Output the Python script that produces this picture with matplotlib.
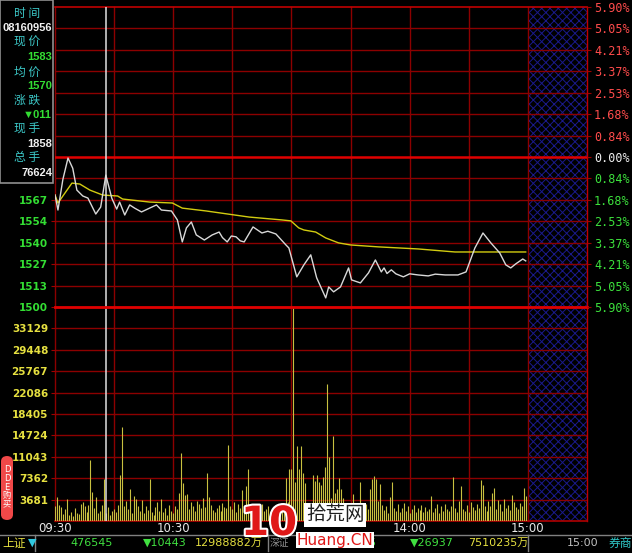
import matplotlib.pyplot as plt
from matplotlib.patches import Rectangle, FancyBboxPatch
import matplotlib.patheffects as pe

plt.rcParams['font.family'] = ['DejaVu Sans', 'Noto Sans CJK SC']
plt.rcParams['hatch.linewidth'] = 0.7

W, H = 632, 553

# ---- data ----
prev_close = 1594.05
pct_step = 5.90 / 7

# trading minute (0 = 09:30, 120 = 13:00, 240 = 15:00) and price (x100)
price_min = [0, 1.5, 4, 6.6, 9, 11.1, 14.1, 16.7, 20.7, 23.2, 25.8, 28.8, 31.3, 32.8,
             35.4, 37.9, 40.4, 43.9, 48, 51.5, 54, 59.1, 62.1, 64.6, 66.7, 69.2, 71.7,
             75.8, 79.8, 83.3, 85, 87.4, 89.5, 91.9, 94, 96, 100.5, 105, 108, 112.1,
             117.2, 118.7, 122.7, 126.3, 129.8, 132.8, 137.4, 138.9, 141.4, 144.9,
             149, 150.5, 155, 159.1, 162.6, 165.6, 167, 168.5, 170.7, 173, 176.8, 180,
             184.3, 189.4, 193, 198, 204.5, 208.6, 213.1, 217.2, 221.2, 225.7, 228.8,
             231.3, 233.8, 237.4, 238.9]
price_val = [1570.2, 1560.8, 1580, 1593.4, 1587, 1573.3, 1569.6, 1568.3, 1558.3, 1562.7,
             1582.7, 1568.3, 1561.4, 1565.8, 1557.7, 1564, 1562, 1559.6, 1562, 1564,
             1560.8, 1560.2, 1554.6, 1540.8, 1549.6, 1553.3, 1545.2, 1542, 1545.2, 1547,
             1543.5, 1540.8, 1544.5, 1544, 1541.5, 1540.8, 1550.2, 1546.4, 1547.5, 1545.8,
             1538.9, 1537, 1518.9, 1526.4, 1532.7, 1518.3, 1505.7, 1512.6, 1509.5, 1512.6,
             1524.5, 1517, 1515.1, 1521.4, 1529.5, 1522, 1524.5, 1521, 1523.3, 1520.8,
             1518.9, 1520.8, 1520.1, 1519.5, 1520.6, 1520.1, 1520.1, 1522, 1537, 1546.4,
             1540.2, 1533.9, 1526.4, 1524.5, 1527, 1530.1, 1528.9]

avg_min = [0, 1.5, 8.6, 12.6, 17.7, 24.2, 31.8, 34.3, 48, 59.6, 64.6, 76.8, 98.5, 115.1,
           119.7, 123.7, 126.3, 132.3, 137.4, 143.9, 150, 164.1, 184.3, 203, 238.9]
avg_val = [1570.2, 1565.2, 1577.7, 1577.1, 1573.3, 1570.2, 1569.6, 1567.7, 1565.8, 1565.2,
           1562, 1560.2, 1556.4, 1554.6, 1554, 1549.6, 1548.3, 1547, 1543.3, 1540.2,
           1538.9, 1537.7, 1536.4, 1534.5, 1534.5]

# volume per minute, minute 0..239
volume = [2600, 4100, 2700, 2400, 1200, 2000, 3800, 1100, 1600, 900,
          2300, 1400, 1200, 2900, 3200, 2500, 1600, 2800, 10500, 5000,
          2200, 4100, 1400, 1800, 2700, 7200, 1300, 2400, 1100, 1800,
          2000, 1500, 2700, 7900, 16200, 2600, 3500, 2100, 5500, 1400,
          4300, 3800, 2500, 1700, 3600, 1300, 2600, 1900, 7200, 1500,
          1100, 2400, 3300, 1800, 3800, 1600, 2300, 1000, 2800, 1700,
          1400, 2600, 2100, 4800, 11700, 6500, 4400, 4600, 2000, 3300,
          2600, 1800, 3500, 2900, 2200, 3900, 2400, 8200, 4100, 2700,
          1900, 1500, 2200, 2700, 1800, 3100, 2400, 2300, 13000, 2500,
          2000, 3300, 1600, 2900, 2200, 5300, 2400, 6100, 8900, 1900,
          2300, 1800, 2600, 1500, 2100, 3000, 1700, 2000, 2600, 1500,
          1200, 1900, 2400, 1400, 2200, 1700, 2800, 7400, 3200, 8900,
          9000, 36600, 6700, 12900, 8900, 12900, 8250, 6500, 3000, 1800,
          2600, 7900, 6900, 7900, 6700, 6200, 7600, 9300, 23600, 11000,
          4000, 14600, 4800, 5500, 7400, 5500, 4000, 2200, 1400, 2600,
          1800, 4600, 2400, 1200, 1900, 6700, 2300, 1600, 3000, 2100,
          5500, 7200, 7700, 7200, 3400, 6400, 2800, 1900, 2500, 1300,
          4100, 6700, 2300, 1700, 2900, 1500, 2200, 3100, 1800, 2600,
          1400, 2100, 2700, 1600, 2300, 1900, 2800, 1500, 2400, 1700,
          2000, 4300, 1600, 2200, 2900, 1400, 2500, 1800, 3000, 2100,
          1700, 2600, 7600, 2300, 1500, 3400, 6000, 2100, 1800, 2700,
          1600, 3300, 2400, 1900, 3000, 2200, 7000, 6200, 2600, 1800,
          3500, 2500, 4800, 5700, 2100, 3600, 2900, 1700, 3800, 2300,
          2800, 1900, 4500, 3200, 2400, 2000, 3100, 2600, 5700, 4300]

vol_step = 3681
cursor_min = 26

time_ticks = [0, 60, 180, 240]
time_labels = ['09:30', '10:30', '14:00', '15:00']
pct_labels = ['5.90%', '5.05%', '4.21%', '3.37%', '2.53%', '1.68%', '0.84%', '0.00%',
              '0.84%', '1.68%', '2.53%', '3.37%', '4.21%', '5.05%', '5.90%']
price_labels = ['1567', '1554', '1540', '1527', '1513', '1500']
vol_labels = ['3681', '7362', '11043', '14724', '18405', '22086', '25767', '29448', '33129']

info_names = ['时 间', '现 价', '均 价', '涨 跌', '现 手', '总 手']
info_values = ['08160956', '1583', '1570', '▼011', '1858', '76624']

# ---- figure ----
fig = plt.figure(figsize=(W / 100, H / 100), dpi=100, facecolor='black')


def fx(x):
    return x / W


def fy(y):
    return 1 - y / H


ax = fig.add_axes([fx(55), fy(307), (587 - 55) / W, 300 / H])
axv = fig.add_axes([fx(55), fy(521), (587 - 55) / W, 214 / H])

step = prev_close * pct_step / 100
levels = [prev_close + k * step for k in range(-7, 8)]

for a in (ax, axv):
    a.set_facecolor('black')
    a.set_xlim(0, 270)
    for s in a.spines.values():
        s.set_visible(False)
    a.axvspan(240, 270, facecolor='black', edgecolor='#1a1a8c', hatch='xxxx', lw=0, zorder=0.5)
    for m in range(0, 271, 30):
        a.axvline(m, color='#c00000' if m == 270 else '#8c0000', lw=1, zorder=1, clip_on=False)
    a.axvline(cursor_min, color='#e0e0e0', lw=1.1, zorder=5)

ax.set_ylim(levels[0], levels[-1])
for k, lv in enumerate(levels):
    if k == 7:
        ax.axhline(lv, color='#e00000', lw=1.8, zorder=1)
    elif k == 14:
        ax.axhline(lv, color='#c00000', lw=1.2, zorder=1, clip_on=False)
    elif k > 0:
        ax.axhline(lv, color='#8c0000', lw=1, zorder=1)

ax.plot(avg_min, avg_val, color='#d2cc10', lw=1, zorder=3)
ax.plot(price_min, price_val, color='#d8d8d8', lw=1, zorder=4)

ax.set_xticks([])
ax.set_yticks([levels[5 - i] for i in range(6)])
ax.set_yticklabels(price_labels, fontsize=7.5, fontweight='bold', color='#33dd33')
ax.tick_params(axis='y', length=3, color='#a00000', pad=2)

axr = ax.twinx()
axr.set_ylim(levels[0], levels[-1])
for s in axr.spines.values():
    s.set_visible(False)
axr.set_yticks(levels[::-1])
axr.set_yticklabels(pct_labels, family='DejaVu Sans Mono', fontsize=8.5)
for i, lbl in enumerate(axr.get_yticklabels()):
    lbl.set_color('#ff4c4c' if i < 7 else ('#f0f0f0' if i == 7 else '#3ce03c'))
axr.tick_params(axis='y', length=3, color='#a00000', pad=2)

# volume panel
axv.set_ylim(0, 10 * vol_step)
for k in range(0, 11):
    if k == 10:
        axv.axhline(k * vol_step, color='#e00000', lw=2, zorder=6, clip_on=False)
    elif k == 0:
        axv.axhline(0, color='#b00000', lw=1.2, zorder=1, clip_on=False)
    else:
        axv.axhline(k * vol_step, color='#8c0000', lw=1, zorder=1)
axv.vlines(range(len(volume)), 0, volume, color='#c8c040', lw=0.8, zorder=3)
axv.set_yticks([vol_step * (i + 1) for i in range(9)])
axv.set_yticklabels(vol_labels, fontsize=7.5, fontweight='bold', color='#e6e040')
axv.tick_params(axis='y', length=3, color='#a00000', pad=2)
axv.set_xticks(time_ticks)
axv.set_xticklabels(time_labels, fontsize=8.5, color='#e8e8e8')
axv.tick_params(axis='x', length=0, pad=1)

# ---- info panel ----
fig.add_artist(Rectangle((0, fy(183)), fx(53), 183 / H, transform=fig.transFigure,
                         facecolor='black', edgecolor='#909090', lw=1.2, zorder=10))
name_y = [13, 42, 72, 100, 129, 158]
val_y = [28, 57, 86, 115, 144, 173]
val_col = ['#f0f0f0', '#33dd33', '#33dd33', '#33dd33', '#f0f0f0', '#f0f0f0']
for nm, y in zip(info_names, name_y):
    fig.text(fx(27), fy(y), nm, family=['Noto Sans CJK SC'], fontsize=8.5,
             color='#3cc8c8', ha='center', va='center', zorder=11)
for v, y, c in zip(info_values, val_y, val_col):
    fig.text(fx(52), fy(y), v, family=['Liberation Sans', 'DejaVu Sans'], fontsize=8,
             fontweight='bold', color=c, ha='right', va='center', zorder=11)
fig.text(fx(52), fy(0), '1689', fontsize=7.5, fontweight='bold', color='#ff3030',
         ha='right', va='center')

# ---- DDE tab ----
fig.add_artist(FancyBboxPatch((fx(1), fy(520)), fx(12), 64 / H, transform=fig.transFigure,
                              boxstyle='round,pad=0,rounding_size=0.01',
                              facecolor='#f04848', edgecolor='none', zorder=10))
fig.text(fx(7), fy(487), 'D\nD\nE\n购\n买', family=['DejaVu Sans', 'Noto Sans CJK SC'],
         fontsize=6, color='white', ha='center', va='center', linespacing=0.95, zorder=11)

# ---- status bar ----
fig.add_artist(plt.Line2D([0, 1], [fy(535), fy(535)], color='#808080', lw=1))
for xb in [35, 268, 528]:
    fig.add_artist(plt.Line2D([fx(xb), fx(xb)], [fy(535), fy(551)], color='#808080', lw=1))
bar_texts = [(2, '上证', '#e6e040', 'left', 8.5), (28, '▼', '#30c8e0', 'left', 8),
             (113, '476545', '#40e040', 'right', 8), (187, '▼10443', '#40e040', 'right', 8),
             (195, '12988882万', '#e6e040', 'left', 8), (270, '深证', '#909090', 'left', 7),
             (377, '1305515', '#40e040', 'right', 8), (454, '▼26937', '#40e040', 'right', 8),
             (528, '7510235万', '#e6e040', 'right', 8), (583, '15:00', '#c0c0c0', 'center', 8),
             (632, '券商', '#30c8c8', 'right', 8.5)]
for x, t, c, ha, fs in bar_texts:
    fig.text(fx(x), fy(543), t, family=['DejaVu Sans', 'Noto Sans CJK SC'], fontsize=fs,
             color=c, ha=ha, va='center')

# ---- watermark ----
fig.text(fx(269), fy(524), '10', fontsize=29, fontweight='bold', color='#e01818',
         ha='center', va='center', zorder=12,
         path_effects=[pe.withStroke(linewidth=3, foreground='white')])
fig.text(fx(335), fy(515), '拾荒网', family=['Noto Sans CJK SC'], fontsize=14,
         color='#202020', ha='center', va='center', zorder=12,
         bbox=dict(facecolor='white', edgecolor='none', pad=1))
fig.text(fx(335), fy(540), 'Huang.CN', fontsize=11, color='#e01818', ha='center',
         va='center', zorder=12, bbox=dict(facecolor='white', edgecolor='none', pad=0.5))

fig.savefig('out.png', dpi=100, facecolor='black')
